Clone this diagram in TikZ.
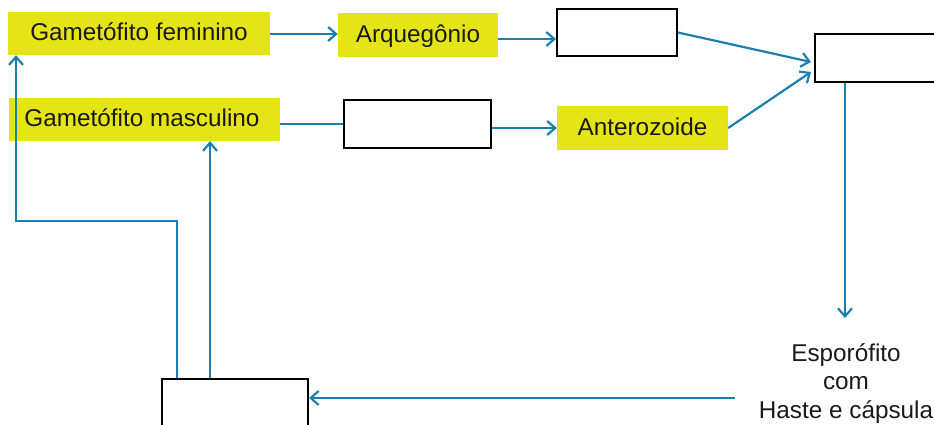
\documentclass[tikz,border=0pt]{standalone}
\usepackage{fontspec}
\setmainfont{Liberation Sans}
\usetikzlibrary{arrows.meta}
\definecolor{ylw}{RGB}{229,229,22}
\definecolor{lblue}{RGB}{27,127,176}
\definecolor{txt}{RGB}{26,26,26}
\begin{document}
\begin{tikzpicture}[x=1pt,y=-1pt,
  lbl/.style={font=\fontsize{24.3}{28.5}\selectfont, text=txt},
  ybox/.style={lbl, fill=ylw, inner sep=0pt, text height=19pt, text depth=4pt},
  wbox/.style={draw=black, line width=2pt, fill=white, inner sep=0pt},
  con/.style={draw=lblue, line width=2.2pt},
  arr/.style={con, -{Straight Barb[length=8pt,width=14pt]}}]
\useasboundingbox (0,0) rectangle (934,425);

\node[ybox, minimum width=262pt, minimum height=43pt] (fem) at (139,33.5) {Gametófito feminino};
\node[ybox, minimum width=271pt, minimum height=43pt] (masc) at (144.5,119.5) {\hspace*{-5pt}Gametófito masculino};
\node[ybox, minimum width=160pt, minimum height=44pt] (arq) at (418,35) {Arquegônio};
\node[ybox, minimum width=171pt, minimum height=44pt] (ant) at (642.5,128) {Anterozoide};
\node[wbox, minimum width=120pt, minimum height=47pt] (b1) at (617,32.5) {};
\node[wbox, minimum width=147pt, minimum height=48pt] (mid) at (417.5,124) {};
\node[wbox, minimum width=125pt, minimum height=48pt] (rb) at (877.5,58) {};
\node[wbox, minimum width=146pt, minimum height=53pt] (bot) at (235,405.5) {};
\node[lbl, align=center, anchor=north, inner xsep=0pt, inner ysep=25pt] (esp) at (846,318) {Esporófito\\com\\Haste e cápsula};
\coordinate (hs) at (735,398);

\draw[arr] (fem.east |- 0,34) -- (arq.west |- 0,34);
\draw[arr] ([yshift=-4pt]arq.east) -- ([yshift=-6.5pt]b1.west);
\draw[arr] (b1.east) -- ([xshift=-3pt,yshift=-4pt]rb.west);
\draw[arr] (ant.east) -- ([xshift=-3pt,yshift=-14pt]rb.west);
\draw[con] (masc.east |- mid.west) -- (mid.west);
\draw[arr] (ant.west -| mid.east) -- (ant.west);
\draw[arr] ([xshift=-32.5pt]rb.south) -- ([xshift=-32.5pt]rb.south |- esp.north);
\draw[arr] (hs) -- (hs -| bot.east);
\draw[arr] ([xshift=-58pt]bot.north) -- ++(0,-157) -| ([xshift=-123pt]fem.south);
\draw[arr] ([xshift=-25pt]bot.north) -- ([xshift=-25pt]bot.north |- masc.south);
\end{tikzpicture}
\end{document}
